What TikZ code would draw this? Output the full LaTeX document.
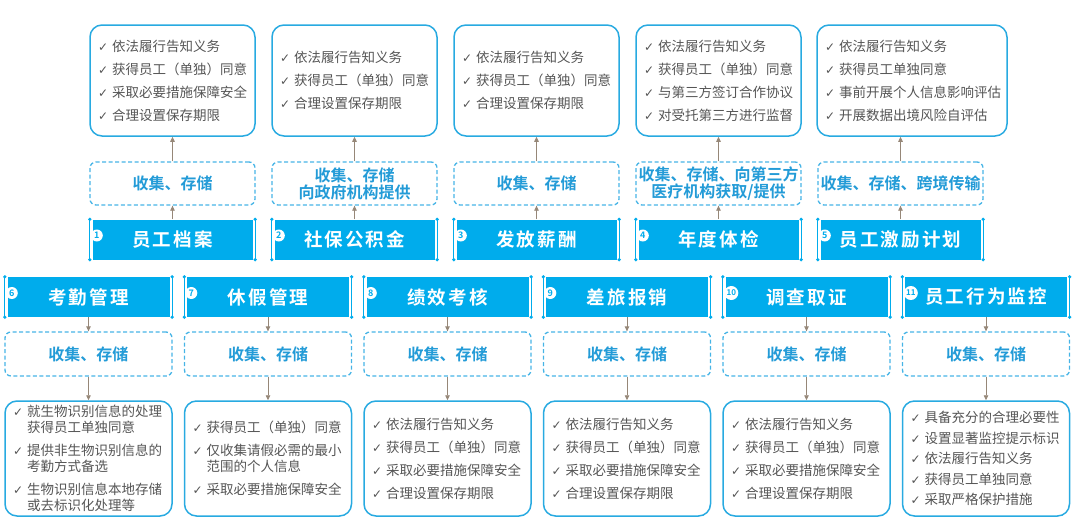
\documentclass[tikz,border=0pt]{standalone}
\usepackage{fontspec}
\setmainfont{Noto Sans CJK SC}[BoldFont={Noto Sans CJK SC Bold}]
\newfontfamily\checkfont{DejaVu Sans}
\newfontfamily\bannerfont[LetterSpace=11]{Noto Sans CJK SC Bold}
\usetikzlibrary{arrows.meta}

\definecolor{bannerblue}{RGB}{0,172,236}
\definecolor{boxblue}{RGB}{40,170,225}
\definecolor{dashblue}{RGB}{70,180,230}
\definecolor{actblue}{RGB}{35,155,215}
\definecolor{itemgray}{RGB}{85,85,85}
\definecolor{arrowbrown}{RGB}{150,135,120}

\newcommand{\ck}{\makebox[14pt][l]{\checkfont\fontsize{12}{12}\selectfont ✓}}
\newcommand{\cont}{\hspace*{14pt}}
\newcommand{\bannerframe}[1]{%
  \draw[bannerblue, line width=1pt] ([xshift=-2.5pt]#1.north west) -- ([xshift=-2.5pt]#1.south west);
  \draw[bannerblue, line width=1pt] ([xshift=2.5pt]#1.north east) -- ([xshift=2.5pt]#1.south east);
  \fill[bannerblue] ([xshift=-2.5pt]#1.north west) circle (1.8pt) ([xshift=-2.5pt]#1.south west) circle (1.8pt)
    ([xshift=2.5pt]#1.north east) circle (1.8pt) ([xshift=2.5pt]#1.south east) circle (1.8pt);}

\tikzset{
  banner/.style={fill=bannerblue, text=white, minimum height=40pt, inner sep=0pt,
    font=\bannerfont\fontsize{18.5}{20}\selectfont},
  act/.style={draw=dashblue, dashed, dash pattern=on 4pt off 2.5pt, line width=1.3pt, rounded corners=6pt,
    minimum height=43pt, inner sep=0pt, align=center, text=actblue, font=\bfseries\fontsize{16}{17}\selectfont},
  duty/.style={draw=boxblue, line width=1.5pt, rounded corners=12pt, inner xsep=8pt, inner ysep=0pt,
    align=left, text=itemgray, font=\fontsize{13.5}{16}\selectfont},
  num/.style={circle, fill=white, text=bannerblue, inner sep=0pt, font=\bfseries\fontsize{9}{9}\selectfont},
  flow/.style={draw=arrowbrown, line width=0.8pt, -{Triangle[length=5pt,width=4.5pt]}}
}

\begin{document}
\begin{tikzpicture}[x=1pt, y=-1pt]

\useasboundingbox (0,0) rectangle (1080,528);

% top row: 1-5
\foreach \idx/\cx/\dx/\tw/\title/\act/\items in {
  1/172.5/172.5/149/员工档案/{收集、存储}/{\ck 依法履行告知义务\\[7pt]\ck 获得员工（单独）同意\\[7pt]\ck 采取必要措施保障安全\\[7pt]\ck 合理设置保存期限},
  2/354.5/354.5/149/社保公积金/{收集、存储\\向政府机构提供}/{\ck 依法履行告知义务\\[7pt]\ck 获得员工（单独）同意\\[7pt]\ck 合理设置保存期限},
  3/536.5/536.5/149/发放薪酬/{收集、存储}/{\ck 依法履行告知义务\\[7pt]\ck 获得员工（单独）同意\\[7pt]\ck 合理设置保存期限},
  4/718.5/718.5/149/年度体检/{收集、存储、向第三方\\医疗机构获取/提供}/{\ck 依法履行告知义务\\[7pt]\ck 获得员工（单独）同意\\[7pt]\ck 与第三方签订合作协议\\[7pt]\ck 对受托第三方进行监督},
  5/900.5/912/174/员工激励计划/{收集、存储、跨境传输}/{\ck 依法履行告知义务\\[7pt]\ck 获得员工单独同意\\[7pt]\ck 事前开展个人信息影响评估\\[7pt]\ck 开展数据出境风险自评估}}
{
  \node[banner, minimum width=160pt] (b\idx) at (\cx,239.5) {\title};
  \bannerframe{b\idx}
  \node[num, minimum size=12pt] (n\idx) at ([xshift=4.5pt,yshift=4pt]b\idx.west) {\idx};
  \node[act, minimum width=165pt] (a\idx) at (\cx,183.5) {\act};
  \node[duty, text width=\tw pt, minimum height=111pt] (d\idx) at (\dx,80.5) {\items};
  \draw[flow] (b\idx.north) -- (a\idx.south);
  \draw[flow] (a\idx.north) -- (a\idx.north |- d\idx.south);
}

% bottom row: 6-11
\foreach \idx/\cx/\title/\items in {
  6/88.5/考勤管理/{\ck 就生物识别信息的处理\\\cont 获得员工单独同意\\[7pt]\ck 提供非生物识别信息的\\\cont 考勤方式备选\\[7pt]\ck 生物识别信息本地存储\\\cont 或去标识化处理等},
  7/268/休假管理/{\ck 获得员工（单独）同意\\[7pt]\ck 仅收集请假必需的最小\\\cont 范围的个人信息\\[7pt]\ck 采取必要措施保障安全},
  8/447.5/绩效考核/{\ck 依法履行告知义务\\[7pt]\ck 获得员工（单独）同意\\[7pt]\ck 采取必要措施保障安全\\[7pt]\ck 合理设置保存期限},
  9/627/差旅报销/{\ck 依法履行告知义务\\[7pt]\ck 获得员工（单独）同意\\[7pt]\ck 采取必要措施保障安全\\[7pt]\ck 合理设置保存期限},
  10/806.5/调查取证/{\ck 依法履行告知义务\\[7pt]\ck 获得员工（单独）同意\\[7pt]\ck 采取必要措施保障安全\\[7pt]\ck 合理设置保存期限},
  11/986/员工行为监控/{\ck 具备充分的合理必要性\\[4.5pt]\ck 设置显著监控提示标识\\[4.5pt]\ck 依法履行告知义务\\[4.5pt]\ck 获得员工单独同意\\[4.5pt]\ck 采取严格保护措施}}
{
  \node[banner, minimum width=162pt] (b\idx) at (\cx,297) {\title};
  \bannerframe{b\idx}
  \node[num, minimum size={12+2*(\idx>9)}] (n\idx) at ([xshift={4.5+1.5*(\idx>9)},yshift=4pt]b\idx.west)
    {\ifnum\idx>9 \fontsize{8}{8}\selectfont\fi\idx};
  \node[act, minimum width=167pt, minimum height=44pt] (a\idx) at (\cx,354) {收集、存储};
  \node[duty, text width=151pt, minimum height=115pt] (d\idx) at (\cx,458.5) {\items};
  \draw[flow] (b\idx.south) -- (a\idx.north);
  \draw[flow] (a\idx.south) -- (d\idx.north);
}

\end{tikzpicture}
\end{document}
